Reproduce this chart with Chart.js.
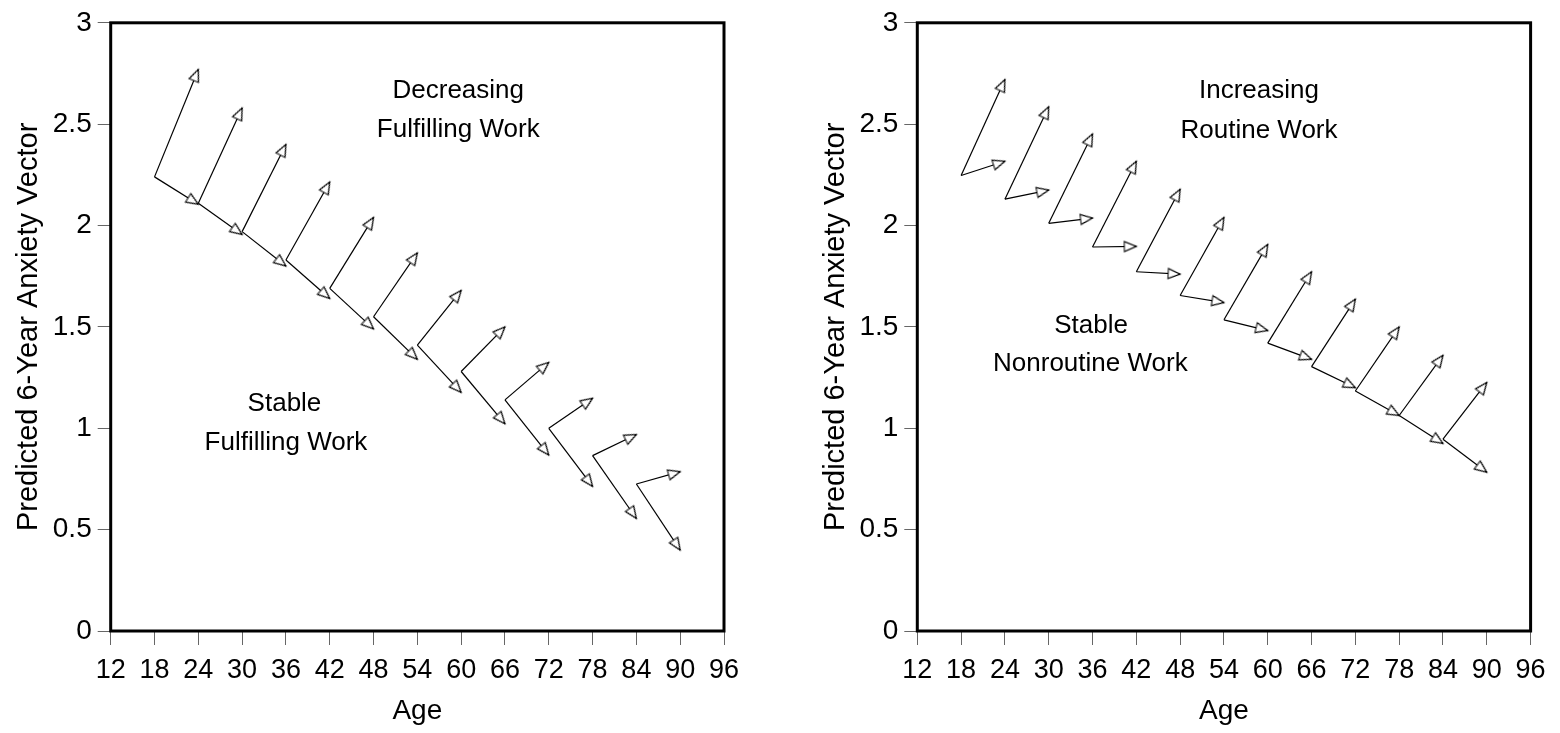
<!DOCTYPE html>
<html><head><meta charset="utf-8">
<script src="https://cdn.jsdelivr.net/npm/chart.js@4.4.1/dist/chart.umd.min.js"></script>
<style>
html,body{margin:0;padding:0;background:#fff;width:1560px;height:733px;overflow:hidden;}
canvas{position:absolute;top:0;}
#c1{left:0}
#c2{left:807px}
</style></head><body>
<canvas id="c1" width="780" height="733"></canvas>
<canvas id="c2" width="753" height="733"></canvas>
<script>
// ---- data ----
const AGES      = [18, 24, 30, 36, 42, 48, 54, 60, 66, 72, 78, 84];
const TIP_AGES  = [24, 30, 36, 42, 48, 54, 60, 66, 72, 78, 84, 90];
const X_TICKS   = [12, 18, 24, 30, 36, 42, 48, 54, 60, 66, 72, 78, 84, 90, 96];
const Y_TICKS   = [0, 0.5, 1, 1.5, 2, 2.5, 3];

// Left panel: fulfilling work
const LEFT_BASE       = [2.24, 2.11, 1.97, 1.83, 1.69, 1.55, 1.41, 1.28, 1.14, 1.00, 0.865, 0.725];
const LEFT_DECREASING = [2.77, 2.58, 2.40, 2.215, 2.04, 1.865, 1.68, 1.50, 1.325, 1.148, 0.969, 0.786];
const LEFT_STABLE     = [2.105, 1.956, 1.80, 1.64, 1.49, 1.34, 1.177, 1.022, 0.868, 0.713, 0.555, 0.399];

// Right panel: routine work
const RIGHT_BASE       = [2.247, 2.13, 2.011, 1.894, 1.772, 1.655, 1.535, 1.42, 1.304, 1.184, 1.063, 0.946];
const RIGHT_INCREASING = [2.72, 2.586, 2.452, 2.317, 2.179, 2.04, 1.907, 1.772, 1.637, 1.50, 1.36, 1.226];
const RIGHT_STABLE     = [2.317, 2.175, 2.037, 1.897, 1.76, 1.62, 1.482, 1.34, 1.20, 1.063, 0.925, 0.783];

const LEFT_NOTES = [
  {text: 'Decreasing',      x: 59.6, y: 2.663},
  {text: 'Fulfilling Work', x: 59.6, y: 2.472},
  {text: 'Stable',          x: 35.8, y: 1.12},
  {text: 'Fulfilling Work', x: 36.0, y: 0.928}
];
const RIGHT_NOTES = [
  {text: 'Increasing',      x: 58.8, y: 2.663},
  {text: 'Routine Work',    x: 58.8, y: 2.467},
  {text: 'Stable',          x: 35.8, y: 1.505},
  {text: 'Nonroutine Work', x: 35.7, y: 1.319}
];

const FONT = '"Liberation Sans", Arial, Helvetica, sans-serif';
Chart.defaults.font.family = FONT;
Chart.defaults.color = '#000';

function makeHead() {
  const c = document.createElement('canvas');
  c.width = 30; c.height = 30;
  const g = c.getContext('2d');
  g.beginPath();
  g.moveTo(15, 15);
  g.lineTo(20, 27);
  g.lineTo(10, 27);
  g.closePath();
  g.fillStyle = '#fff';
  g.fill();
  g.strokeStyle = '#000';
  g.lineWidth = 1.2;
  g.stroke();
  return c;
}
const HEAD = makeHead();

function headRotation(ctx) {
  const d = ctx.dataset.data;
  const xs = ctx.chart.scales.x, ys = ctx.chart.scales.y;
  const dx = xs.getPixelForValue(d[1].x) - xs.getPixelForValue(d[0].x);
  const dy = ys.getPixelForValue(d[1].y) - ys.getPixelForValue(d[0].y);
  return Math.atan2(dx, -dy) * 180 / Math.PI;
}

function vector(a, b, t, v) {
  return {
    data: [{x: a, y: b}, {x: t, y: v}],
    borderColor: '#000',
    borderWidth: 1.2,
    pointRadius: c => c.dataIndex ? 7 : 0,
    pointHoverRadius: 0,
    pointStyle: c => c.dataIndex ? HEAD : 'circle',
    pointRotation: c => c.dataIndex ? headRotation(c) : 0,
    fill: false,
    tension: 0,
    clip: false
  };
}

const framePlugin = {
  id: 'frame',
  afterDraw(chart) {
    const {ctx, chartArea: a} = chart;
    ctx.save();
    ctx.lineWidth = 3;
    ctx.strokeStyle = '#000';
    ctx.strokeRect(a.left, a.top, a.right - a.left, a.bottom - a.top);
    ctx.restore();
  }
};
const notesPlugin = {
  id: 'notes',
  afterDatasetsDraw(chart, args, opts) {
    const {ctx} = chart;
    const xs = chart.scales.x, ys = chart.scales.y;
    ctx.save();
    ctx.font = '26px ' + FONT;
    ctx.fillStyle = '#000';
    ctx.textAlign = 'center';
    ctx.textBaseline = 'middle';
    (opts.items || []).forEach(n => {
      ctx.fillText(n.text, xs.getPixelForValue(n.x), ys.getPixelForValue(n.y));
    });
    ctx.restore();
  }
};

function panel(id, base, upper, stable, notes, padRight, yWidth) {
  const ds = [];
  AGES.forEach((a, i) => {
    ds.push(vector(a, base[i], TIP_AGES[i], upper[i]));
    ds.push(vector(a, base[i], TIP_AGES[i], stable[i]));
  });
  new Chart(document.getElementById(id), {
    type: 'line',
    data: {datasets: ds},
    options: {
      responsive: false,
      animation: false,
      devicePixelRatio: 1,
      events: [],
      layout: {padding: {top: 17, right: padRight, bottom: 0, left: 0}},
      plugins: {legend: {display: false}, tooltip: {enabled: false}, notes: {items: notes}},
      scales: {
        x: {
          type: 'linear', min: 12, max: 96,
          afterFit: s => { s.height = 102; },
          afterBuildTicks: s => { s.ticks = X_TICKS.map(v => ({value: v})); },
          ticks: {color: '#000', font: {size: 27}, padding: 9, maxRotation: 0, autoSkip: false,
                  callback: v => String(v)},
          grid: {drawOnChartArea: false, drawTicks: true, tickLength: 14, color: '#666', lineWidth: 1},
          border: {display: false},
          title: {display: true, text: 'Age', color: '#000', font: {size: 28}, padding: {top: 0, bottom: 5}}
        },
        y: {
          type: 'linear', min: 0, max: 3,
          afterFit: s => { s.width = yWidth; },
          afterBuildTicks: s => { s.ticks = Y_TICKS.map(v => ({value: v})); },
          ticks: {color: '#000', font: {size: 28}, padding: 6, callback: v => String(v)},
          grid: {drawOnChartArea: false, drawTicks: true, tickLength: 13, color: '#666', lineWidth: 1},
          border: {display: false},
          title: {display: true, text: 'Predicted 6-Year Anxiety Vector', color: '#000', font: {size: 29},
                  padding: {top: 12, bottom: 0}}
        }
      }
    },
    plugins: [framePlugin, notesPlugin]
  });
}

panel('c1', LEFT_BASE, LEFT_DECREASING, LEFT_STABLE, LEFT_NOTES, 56, 110.7);
panel('c2', RIGHT_BASE, RIGHT_INCREASING, RIGHT_STABLE, RIGHT_NOTES, 29.4, 110.3);
</script>
</body></html>
